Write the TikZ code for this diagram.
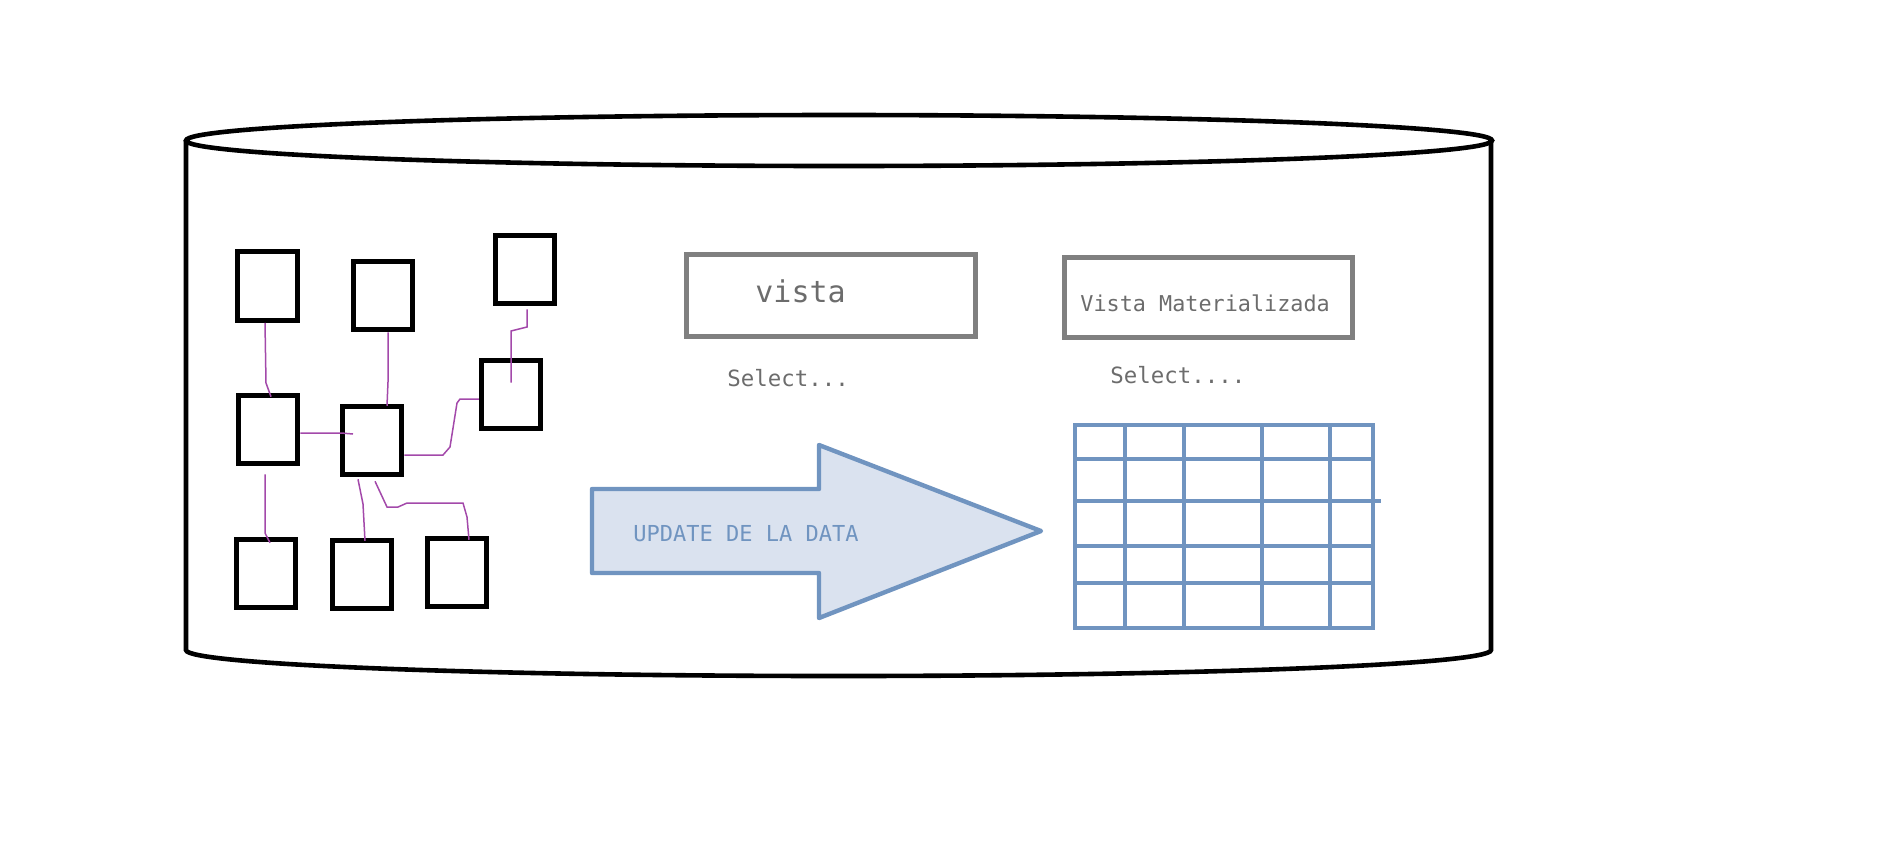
\documentclass[tikz,border=0pt]{standalone}
\usepackage{fontspec}
\newfontfamily\dvmono{DejaVu Sans Mono}
\definecolor{wirepurple}{RGB}{163,73,170}
\definecolor{boxgray}{RGB}{128,128,128}
\definecolor{txtgray}{RGB}{108,108,108}
\definecolor{steel}{RGB}{112,148,192}
\definecolor{steelfill}{RGB}{218,226,239}
\begin{document}
\begin{tikzpicture}[x=0.5pt,y=-0.5pt,
  tbox/.style={draw=black,line width=2.5pt,inner sep=0pt,minimum width=29.75pt,minimum height=34.25pt},
  wire/.style={draw=wirepurple,line width=0.75pt},
  viewbox/.style={draw=boxgray,line width=2.4pt,inner sep=0pt},
  label/.style={inner sep=0pt,anchor=base west,text=txtgray,font=\dvmono},
  cyl/.style={draw=black,line width=2.3pt},
  arrowshape/.style={draw=steel,fill=steelfill,line width=2.2pt,line join=round},
  gridline/.style={draw=steel,line width=2.4pt}]
\useasboundingbox (0,0) rectangle (1899,848);

% cylinder
\draw[cyl] (839,140.5) ellipse [x radius=653, y radius=25.5];
\draw[cyl] (186,140.5) -- (186,650) arc[start angle=180,end angle=0,x radius=652.5,y radius=26] -- (1491,140.5);

% tables
\node[tbox] (b1) at (267.5,286) {};
\node[tbox] (b2) at (383,295.5) {};
\node[tbox] (b3) at (525,269.5) {};
\node[tbox] (b4) at (268,429.5) {};
\node[tbox] (b5) at (372,440.5) {};
\node[tbox] (b6) at (511,394.5) {};
\node[tbox] (b7) at (266,573.5) {};
\node[tbox] (b8) at (362,574.5) {};
\node[tbox] (b9) at (457,572.5) {};

% relations
\draw[wire] ([xshift=-1.25pt]b1.south) -- (266,383) -- ([xshift=1.5pt,yshift=-2pt]b4.north);
\draw[wire] ([xshift=2.5pt]b2.south) -- (388,382) -- ([xshift=7.5pt,yshift=-1pt]b5.north);
\draw[wire] ([xshift=1pt,yshift=-1.5pt]b3.south) -- (527,327) -- (511,331) -- ([yshift=6pt]b6.center);
\draw[wire] ([yshift=-1.75pt]b4.east) -- (341,433) -- ([xshift=-9.5pt,yshift=3.25pt]b5.center);
\draw[wire] ([yshift=-7.25pt]b5.east) -- (443,455) -- (450,447) -- (457,403) -- (460,399) -- ([yshift=-2.25pt]b6.west);
\draw[wire] ([xshift=-1.5pt,yshift=-4pt]b4.south) -- (265,533) -- ([xshift=2pt,yshift=-3pt]b7.north);
\draw[wire] ([xshift=-7pt,yshift=-1pt]b5.south) -- (363,504) -- ([xshift=1.5pt,yshift=-1.5pt]b8.north);
\draw[wire] ([xshift=1.5pt,yshift=-2pt]b5.south) -- (387,507) -- (398,507) -- (407,503) -- (463,503) -- (467,517) -- ([xshift=6pt,yshift=-2pt]b9.north);

% views
\node[viewbox,minimum width=144.75pt,minimum height=41.25pt] (vista) at (831,295.5) {};
\node[label,font=\dvmono\fontsize{15pt}{18pt}\selectfont] (vistatxt) at (755,302) {vista};
\node[label,font=\dvmono\fontsize{11.2pt}{14pt}\selectfont] (sel1) at (727,386) {Select...};

\node[viewbox,minimum width=144.25pt,minimum height=40.25pt] (vmat) at (1208.5,297.5) {};
\node[label,font=\dvmono\fontsize{10.9pt}{14pt}\selectfont] (vmattxt) at (1080,311) {Vista Materializada};
\node[label,font=\dvmono\fontsize{11.2pt}{14pt}\selectfont] (sel2) at (1110,383) {Select....};

% update arrow
\draw[arrowshape] (592,489) -- (819,489) -- (819,445) -- (1041,531) -- (819,618) -- (819,573) -- (592,573) -- cycle;
\node[label,text=steel,font=\dvmono\fontsize{11pt}{14pt}\selectfont] (upd) at (633,541) {UPDATE DE LA DATA};

% materialized result grid
\draw[gridline] (1075,425) rectangle (1373,628);
\foreach \gx in {1125,1184,1262,1330} \draw[gridline] (\gx,425) -- (\gx,628);
\draw[gridline] (1075,459) -- (1373,459);
\draw[gridline] (1075,501) -- (1381,501);
\draw[gridline] (1075,546) -- (1373,546);
\draw[gridline] (1075,583) -- (1373,583);
\end{tikzpicture}
\end{document}
